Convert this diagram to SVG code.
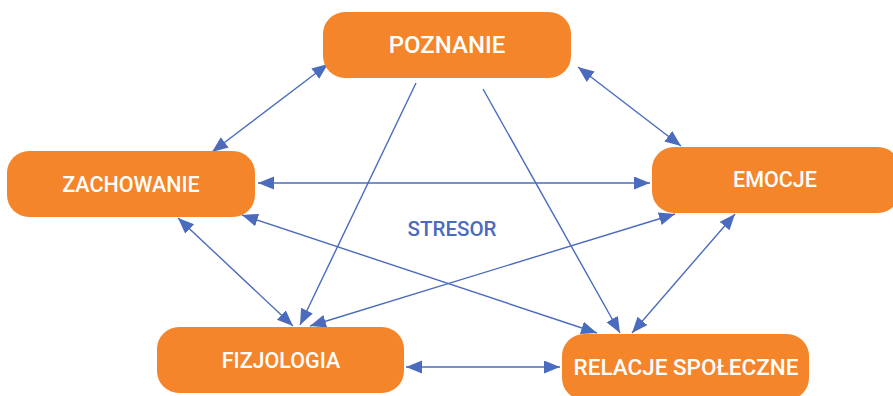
<svg xmlns="http://www.w3.org/2000/svg" width="893" height="396" viewBox="0 0 893 396">
<style>
.box{fill:#F5852A;}
.lbl{fill:#fff;font-family:Roboto,"Liberation Sans",sans-serif;font-weight:500;font-size:21.5px;text-anchor:middle;dominant-baseline:central;}
.big{font-size:24px;}
.rel{font-size:22.5px;}
.con{stroke:#4A6BBE;stroke-width:1.4;fill:none;}
.str{fill:#4A6BBE;font-family:Roboto,"Liberation Sans",sans-serif;font-weight:500;font-size:20.5px;text-anchor:middle;dominant-baseline:central;}
</style>
<defs>
<marker id="ah" markerUnits="userSpaceOnUse" markerWidth="18" markerHeight="14" refX="16" refY="6.5" orient="auto-start-reverse">
<path d="M0,0 L16,6.5 L0,13 z" fill="#4A6BBE"/>
</marker>
</defs>
<rect width="893" height="396" fill="#fff"/>
<g id="connectors">
<line class="con" x1="212" y1="152" x2="328" y2="64" marker-start="url(#ah)" marker-end="url(#ah)"/>
<line class="con" x1="578" y1="67" x2="681" y2="146" marker-start="url(#ah)" marker-end="url(#ah)"/>
<line class="con" x1="258" y1="183" x2="650" y2="183" marker-start="url(#ah)" marker-end="url(#ah)"/>
<line class="con" x1="178" y1="218" x2="293" y2="326" marker-start="url(#ah)" marker-end="url(#ah)"/>
<line class="con" x1="735" y1="214" x2="632" y2="333" marker-start="url(#ah)" marker-end="url(#ah)"/>
<line class="con" x1="406" y1="367" x2="560" y2="367" marker-start="url(#ah)" marker-end="url(#ah)"/>
<line class="con" x1="416" y1="83" x2="300" y2="325" marker-end="url(#ah)"/>
<line class="con" x1="483" y1="89" x2="620" y2="333" marker-end="url(#ah)"/>
<line class="con" x1="675" y1="214" x2="310" y2="326" marker-start="url(#ah)" marker-end="url(#ah)"/>
<line class="con" x1="242" y1="215" x2="597" y2="333" marker-start="url(#ah)" marker-end="url(#ah)"/>
</g>
<g id="poznanie">
<rect class="box" x="323" y="12" width="248" height="66" rx="22"/>
<text class="lbl big" x="447" y="45">POZNANIE</text>
</g>
<g id="zachowanie">
<rect class="box" x="7" y="151" width="248" height="66" rx="22"/>
<text class="lbl" x="131" y="184">ZACHOWANIE</text>
</g>
<g id="emocje">
<rect class="box" x="652" y="147" width="248" height="66" rx="22"/>
<text class="lbl" x="775" y="179">EMOCJE</text>
</g>
<g id="fizjologia">
<rect class="box" x="157" y="327" width="247" height="66" rx="22"/>
<text class="lbl" x="281" y="360">FIZJOLOGIA</text>
</g>
<g id="relacje">
<rect class="box" x="562" y="334" width="247" height="66" rx="22"/>
<text class="lbl rel" x="686" y="367">RELACJE SPOŁECZNE</text>
</g>
<g id="stresor">
<text class="str" x="452" y="229">STRESOR</text>
</g>
</svg>
